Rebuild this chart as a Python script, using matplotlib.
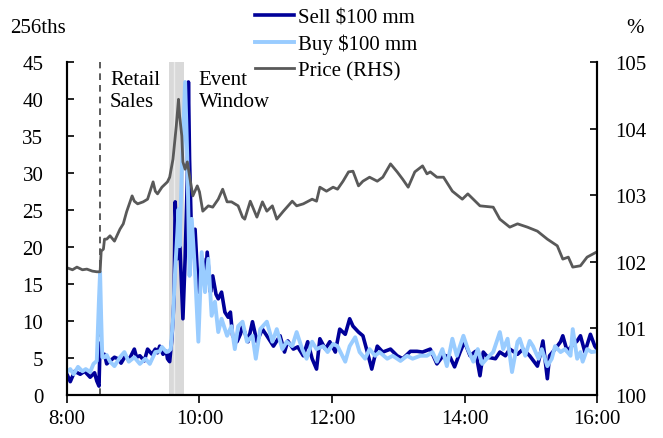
import numpy as np
import matplotlib
matplotlib.use("Agg")
import matplotlib.pyplot as plt

plt.rcParams['font.family'] = ['Liberation Serif', 'DejaVu Serif']
plt.rcParams['font.size'] = 15

# minutes after 8:00, values in 256ths
sell_t = [0, 3, 7, 12, 16, 21, 25, 27, 29, 30, 31, 34, 36, 39, 43, 46, 49, 53, 56, 61,
          63, 66, 70, 73, 77, 80, 82, 84, 87, 90, 91, 93, 95, 97, 98, 100, 101, 102, 104, 105,
          107, 109, 110, 111, 113, 116, 119, 120, 123, 125, 127, 130, 132, 135, 137, 140, 143, 146, 148, 150,
          154, 157, 159, 164, 168, 172, 177, 181, 187, 193, 197, 200, 205, 209, 214, 218, 222, 226, 229, 234,
          238, 243, 247, 252, 256, 259, 264, 268, 272, 276, 281, 286, 293, 299, 304, 311, 317, 322, 329, 335,
          341, 347, 351, 356, 360, 365, 370, 374, 377, 381, 388, 392, 397, 401, 408, 413, 419, 426, 428, 431,
          435, 437, 442, 447, 449, 453, 457, 462, 465, 469, 474, 478, 480]
sell_v = [2.8, 1.8, 3.2, 2.8, 3.2, 2.4, 3.0, 1.9, 1.2, 7.0, 5.5, 5.5, 4.2, 4.6, 5.1, 4.9, 4.3, 5.3, 4.7, 6.2,
          5.1, 5.3, 4.6, 6.2, 5.5, 6.2, 5.7, 6.6, 5.5, 5.9, 4.9, 4.5, 7.6, 13.0, 26.1, 18.4, 20.4, 21.1, 13.9, 10.3,
          18.4, 29.2, 42.3, 31.9, 20.1, 22.4, 13.9, 15.0, 18.4, 14.3, 19.3, 13.9, 16.1, 13.6, 13.0, 13.9, 11.2, 10.5, 11.2, 8.0,
          7.2, 8.2, 9.3, 7.2, 9.9, 7.2, 8.9, 8.0, 6.6, 8.0, 5.8, 7.3, 6.2, 6.5, 5.3, 7.2, 4.9, 3.5, 7.6, 6.2,
          7.2, 5.8, 8.9, 8.2, 10.3, 9.3, 8.5, 8.0, 5.8, 3.5, 6.6, 5.8, 6.2, 5.3, 4.9, 5.9, 5.9, 5.8, 6.2, 4.2,
          5.4, 5.1, 3.8, 5.8, 7.2, 5.3, 5.9, 2.6, 5.8, 5.1, 4.9, 5.8, 5.3, 6.2, 5.5, 6.2, 5.3, 3.9, 5.1, 7.3,
          2.2, 5.3, 6.2, 7.2, 8.0, 5.9, 6.6, 7.3, 8.0, 5.8, 8.2, 6.6, 6.2]

buy_t = [0, 3, 6, 10, 14, 17, 21, 24, 27, 29, 30, 31, 32, 34, 36, 39, 43, 48, 52, 56,
         61, 66, 71, 75, 80, 84, 86, 90, 92, 94, 96, 98, 100, 101, 102, 104, 107, 109, 111, 113,
         116, 119, 122, 125, 128, 131, 134, 137, 140, 145, 149, 152, 155, 159, 163, 168, 171, 175, 181, 186,
         190, 195, 199, 204, 208, 213, 217, 222, 226, 232, 236, 241, 245, 252, 256, 261, 265, 270, 274, 279,
         283, 290, 295, 302, 308, 313, 320, 326, 331, 335, 340, 344, 349, 353, 359, 363, 368, 372, 376, 380,
         386, 392, 395, 399, 403, 408, 410, 415, 419, 422, 427, 430, 435, 439, 442, 447, 451, 456, 458, 462,
         465, 467, 471, 475, 480]
buy_v = [3.1, 3.5, 2.8, 3.8, 3.2, 3.5, 3.1, 4.2, 4.6, 13.0, 16.6, 10.3, 5.1, 5.1, 5.4, 4.5, 3.9, 5.1, 5.8, 4.5,
         5.1, 4.2, 4.9, 4.2, 5.8, 5.9, 6.5, 5.8, 5.9, 6.2, 10.3, 17.0, 22.0, 25.1, 20.1, 30.5, 42.3, 31.9, 16.1, 23.8,
         16.6, 7.2, 19.3, 13.9, 18.4, 10.7, 12.6, 8.5, 10.3, 8.0, 9.3, 6.2, 9.3, 9.9, 7.2, 8.0, 4.9, 8.9, 9.9, 7.2,
         8.9, 6.2, 7.2, 6.6, 8.5, 6.2, 4.9, 7.2, 6.2, 6.6, 5.8, 6.9, 6.6, 4.5, 6.6, 7.8, 5.8, 4.9, 6.2, 5.3,
         5.8, 4.9, 5.3, 4.6, 5.3, 4.9, 5.3, 5.3, 5.8, 4.5, 6.2, 3.9, 7.6, 5.3, 8.0, 6.2, 4.5, 6.2, 4.2, 4.9,
         5.8, 8.5, 6.2, 7.6, 3.1, 7.2, 7.6, 5.3, 7.3, 6.6, 4.9, 6.2, 3.9, 4.9, 6.6, 5.8, 6.2, 5.3, 8.9, 4.9,
         5.8, 4.5, 6.2, 5.8, 5.9]

# price, %
price_t = [0, 5, 9, 14, 18, 23, 27, 30, 31, 33, 34, 36, 39, 43, 48, 51, 54, 59, 61, 64,
           69, 73, 78, 80, 82, 86, 91, 93, 96, 99, 101, 102, 104, 105, 107, 109, 111, 114, 118, 120,
           123, 128, 132, 137, 141, 145, 149, 155, 159, 161, 166, 172, 177, 181, 186, 190, 196, 204, 208, 214,
           222, 226, 229, 235, 241, 245, 250, 255, 259, 264, 268, 274, 281, 286, 293, 299, 304, 309, 315, 322,
           326, 329, 335, 341, 349, 358, 363, 374, 386, 392, 401, 408, 417, 426, 435, 444, 449, 454, 458, 465,
           471, 480]
price_v = [101.91, 101.88, 101.92, 101.88, 101.89, 101.86, 101.85, 101.85, 102.16, 102.19, 102.34, 102.34, 102.39, 102.31, 102.49, 102.57, 102.75, 102.99, 102.91, 102.87,
           102.90, 102.94, 103.20, 103.06, 103.02, 103.12, 103.20, 103.27, 103.54, 104.04, 104.44, 104.19, 103.89, 103.50, 103.39, 103.50, 103.29, 102.99, 103.14, 103.05,
           102.76, 102.84, 102.82, 102.94, 103.09, 102.90, 102.90, 102.84, 102.67, 102.64, 102.91, 102.67, 102.90, 102.76, 102.84, 102.64, 102.76, 102.91, 102.84, 102.87,
           102.94, 102.91, 103.12, 103.06, 103.12, 103.09, 103.21, 103.35, 103.36, 103.14, 103.21, 103.27, 103.21, 103.27, 103.47, 103.35, 103.24, 103.12, 103.35, 103.44,
           103.32, 103.35, 103.27, 103.27, 103.06, 102.94, 103.02, 102.84, 102.82, 102.64, 102.52, 102.57, 102.52, 102.46, 102.34, 102.24, 102.04, 102.07, 101.92, 101.94,
           102.07, 102.15]

xtick_labels = ["8:00", "10:00", "12:00", "14:00", "16:00"]


def to_hours(mins):
    return 8 + np.array(mins) / 60.0


fig = plt.figure(figsize=(6.63, 4.39), dpi=100)
ax = fig.add_axes([0.101, 0.098, 0.7995, 0.7585])
ax2 = ax.twinx()

# event window band and retail sales release
ax.axvspan(9 + 32 / 60, 9 + 46 / 60, color='#d9d9d9', lw=0, zorder=0)
ax.axvline(9 + 37 / 60, color='#ececec', lw=1, zorder=0.5)
ax.axvline(8.5, color='#404040', lw=1.2, ls=(0, (4, 3)), zorder=1)

l1, = ax.plot(to_hours(sell_t), sell_v, color='#000099', lw=2.6, label='Sell $100 mm', zorder=2)
l2, = ax.plot(to_hours(buy_t), buy_v, color='#99ccff', lw=2.8, label='Buy $100 mm', zorder=3)
l3, = ax2.plot(to_hours(price_t), price_v, color='#595959', lw=2.0, label='Price (RHS)')

ax.set_xlim(8, 16)
ax.set_ylim(0, 45)
ax.set_yticks(range(0, 46, 5))
ax.set_xticks([8, 10, 12, 14, 16])
ax.set_xticklabels(xtick_labels)
ax2.set_ylim(100, 105)
ax2.set_yticks(range(100, 106))

for a in (ax, ax2):
    a.spines['top'].set_visible(False)
    for s in ('left', 'right', 'bottom'):
        a.spines[s].set_linewidth(1.5)
ax.tick_params(axis='y', direction='in', length=5, width=1.2, labelsize=15, pad=17)
ax2.tick_params(axis='y', direction='in', length=5, width=1.2, labelsize=15, pad=13)
ax.tick_params(axis='x', direction='out', length=6, width=1.2, labelsize=15, pad=4)

ax.text(8.65, 43.9, "Retail\nSales", va='top', ha='left', fontsize=15, linespacing=1.2)
ax.text(9.99, 43.9, "Event\nWindow", va='top', ha='left', fontsize=15, linespacing=1.2)

fig.text(0.015, 0.935, "256ths", fontsize=15, va='center', ha='left')
fig.text(0.945, 0.935, "%", fontsize=15, va='center', ha='left')

fig.legend(handles=[l1, l2, l3], loc='upper left', bbox_to_anchor=(0.381, 0.985),
           frameon=False, fontsize=15, handlelength=1.9, handletextpad=0.2,
           labelspacing=0.32, borderaxespad=0.0, borderpad=0.1)

fig.savefig("out.png", dpi=100)
